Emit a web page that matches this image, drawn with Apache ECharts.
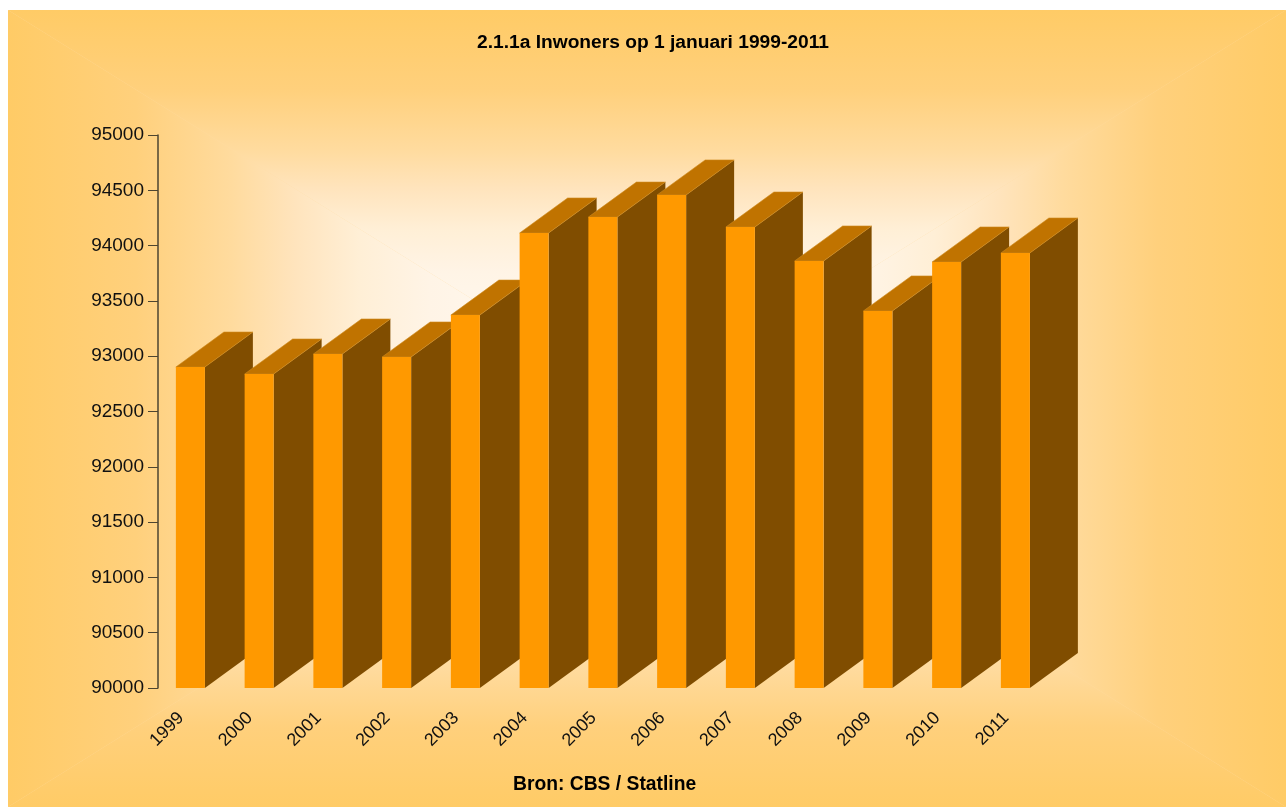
<!DOCTYPE html>
<html>
<head>
<meta charset="utf-8">
<title>Inwoners</title>
<style>
  html, body { margin: 0; padding: 0; background: #fff; }
  #chart { width: 1286px; height: 807px; }
</style>
<script src="https://cdn.jsdelivr.net/npm/echarts@6/dist/echarts.min.js"></script>
</head>
<body>
<div id="chart"></div>
<script>
var years = ['1999', '2000', '2001', '2002', '2003', '2004', '2005', '2006', '2007', '2008', '2009', '2010', '2011'];
var inwoners = [92902, 92839, 93020, 92993, 93372, 94114, 94258, 94458, 94168, 93861, 93409, 93852, 93933];
var yTicks = [90000, 90500, 91000, 91500, 92000, 92500, 93000, 93500, 94000, 94500, 95000];

var myChart = echarts.init(document.getElementById('chart'), null, { renderer: 'canvas' });

// achtergrond: rechthoekig verloop, vier driehoeken naar het midden
var frame = { l: 8, t: 10, r: 1286, b: 807 };
var mid = { x: 647, y: 408 };
var stops = [
  { offset: 0, color: '#fffdf9' },
  { offset: 0.34, color: '#fff4e6' },
  { offset: 0.45, color: '#ffefd6' },
  { offset: 0.55, color: '#ffe4bd' },
  { offset: 0.65, color: '#ffdb9e' },
  { offset: 0.8, color: '#ffd07c' },
  { offset: 1, color: '#ffcb66' }
];
function wedge(a, b, x2, y2) {
  var fill = { type: 'linear', x: mid.x, y: mid.y, x2: x2, y2: y2, global: true, colorStops: stops };
  return {
    type: 'polygon',
    silent: true,
    z: -10,
    shape: { points: [[mid.x, mid.y], a, b] },
    style: { fill: fill }
  };
}
var tl = [frame.l, frame.t], tr = [frame.r, frame.t], bl = [frame.l, frame.b], br = [frame.r, frame.b];

// 3d-balk: voorkant, zijkant en bovenkant
function renderBar(params, api) {
  var pos = api.coord([api.value(0), api.value(1)]);
  var base = api.coord([api.value(0), 90000]);
  var w = 29, dx = 48, dy = 35;
  var x0 = pos[0] - w / 2, x1 = x0 + w;
  return {
    type: 'group',
    children: [
      {
        type: 'polygon',
        shape: { points: [[x1, pos[1]], [x1 + dx, pos[1] - dy], [x1 + dx, base[1] - dy], [x1, base[1]]] },
        style: { fill: '#804d00' }
      },
      {
        type: 'polygon',
        shape: { points: [[x0, pos[1]], [x0 + dx, pos[1] - dy], [x1 + dx, pos[1] - dy], [x1, pos[1]]] },
        style: { fill: '#c07300', stroke: '#cf8a1c', lineWidth: 0.6 }
      },
      {
        type: 'rect',
        shape: { x: x0, y: pos[1], width: w, height: base[1] - pos[1] },
        style: { fill: '#ff9900' }
      }
    ]
  };
}

var option = {
  animation: false,
  title: [
    {
      text: '2.1.1a Inwoners op 1 januari 1999-2011',
      left: 472,
      top: 28,
      textStyle: { fontFamily: 'Liberation Sans', fontSize: 19.2, fontWeight: 'bold', color: '#000' }
    },
    {
      text: 'Bron: CBS / Statline',
      left: 508,
      top: 770,
      textStyle: { fontFamily: 'Liberation Sans', fontSize: 19.3, fontWeight: 'bold', color: '#000' }
    }
  ],
  graphic: [
    // vlak eronder zodat de naden tussen de driehoeken niet wit doorschijnen
    {
      type: 'rect',
      silent: true,
      z: -11,
      shape: { x: frame.l, y: frame.t, width: frame.r - frame.l, height: frame.b - frame.t },
      style: { fill: '#ffdca3' }
    },
    wedge(tl, tr, mid.x, frame.t),
    wedge(tr, br, frame.r, mid.y),
    wedge(br, bl, mid.x, frame.b),
    wedge(bl, tl, frame.l, mid.y)
  ],
  grid: { left: 156, top: 135, width: 893.75, height: 553 },
  xAxis: {
    type: 'category',
    data: years,
    axisLine: { show: false },
    axisTick: { show: false },
    axisLabel: {
      interval: 0,
      rotate: 45,
      margin: 18,
      padding: [0, 13, 0, 0],
      fontFamily: 'Liberation Sans',
      fontSize: 18,
      color: '#111'
    }
  },
  yAxis: {
    type: 'value',
    min: 90000,
    max: 95000,
    interval: 500,
    offset: -2,
    splitLine: { show: false },
    axisLine: { show: true, lineStyle: { color: '#4d4530', width: 1.5 } },
    axisTick: { show: true, length: 10, lineStyle: { color: '#4d4530', width: 1 } },
    axisLabel: {
      margin: 14,
      fontFamily: 'Liberation Sans',
      fontSize: 19,
      color: '#111',
      formatter: function (v) { return yTicks.indexOf(v) >= 0 ? String(v) : ''; }
    }
  },
  series: [
    {
      type: 'custom',
      renderItem: renderBar,
      encode: { x: 0, y: 1 },
      clip: false,
      data: years.map(function (y, i) { return [i, inwoners[i]]; })
    }
  ]
};
myChart.setOption(option);
</script>
</body>
</html>
